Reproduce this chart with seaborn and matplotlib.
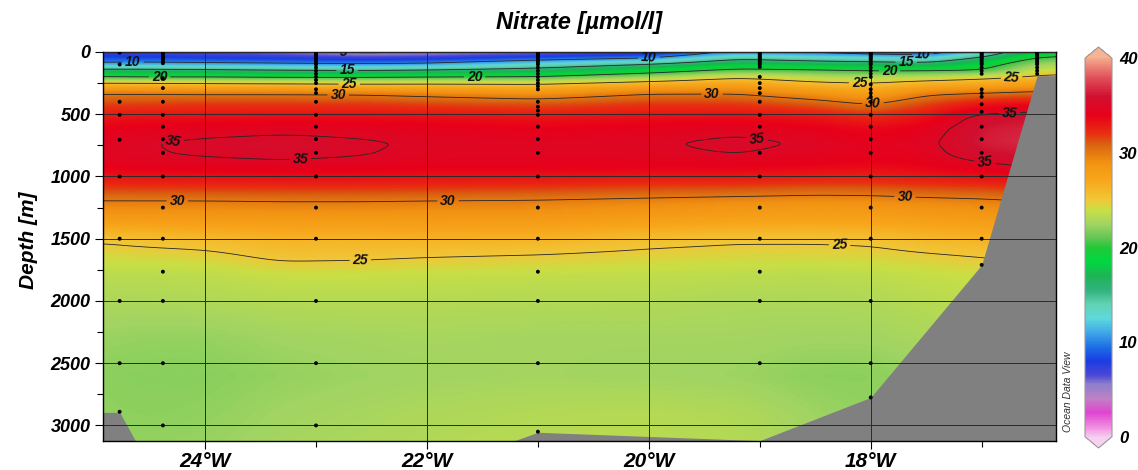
import numpy as np
import pandas as pd
import matplotlib
matplotlib.use("Agg")
import matplotlib.pyplot as plt
from matplotlib.colors import LinearSegmentedColormap
from matplotlib.ticker import FixedLocator
import seaborn as sns

# ---------------------------------------------------------------------------
# Gridded nitrate section (µmol/l): rows = depth nodes, columns = longitude nodes
# ---------------------------------------------------------------------------
lon_nodes = [-25.0, -24.5, -24.0, -23.3, -22.6, -22.0, -21.0, -20.0,
             -19.2, -18.5, -18.0, -17.5, -17.0, -16.5, -16.2]
depth_nodes = [0, 30, 60, 100, 150, 200, 250, 330, 420, 520, 620, 730, 830,
               930, 1050, 1200, 1350, 1500, 1650, 1800, 2000, 2300, 2600, 2900, 3200]
nitrate = [
    [7.0, 6.5, 6.0, 5.3, 4.6, 4.8, 5.0, 6.5, 10.5, 9.5, 8.5, 8.0, 12.5, 17.5, 18.5],
    [7.8, 7.5, 7.0, 6.5, 5.5, 5.8, 7.0, 8.5, 12.5, 11.5, 11.0, 10.5, 14.0, 19.3, 20.0],
    [8.8, 8.8, 8.5, 8.2, 7.8, 8.0, 9.6, 10.8, 15.3, 14.2, 13.8, 13.0, 16.5, 21.0, 21.5],
    [10.8, 11.0, 10.8, 10.5, 10.2, 10.6, 12.8, 15.4, 18.0, 17.0, 16.5, 16.2, 18.6, 22.5, 23.0],
    [16.5, 16.3, 16.0, 15.5, 15.2, 15.6, 16.6, 18.6, 20.8, 20.5, 20.0, 20.0, 20.0, 24.0, 24.3],
    [20.0, 19.7, 19.8, 19.5, 19.5, 19.8, 20.0, 22.2, 24.6, 23.2, 22.8, 23.3, 24.2, 25.3, 25.5],
    [25.3, 25.2, 25.0, 24.8, 24.6, 24.7, 24.6, 26.0, 27.0, 25.4, 25.0, 26.0, 26.5, 27.5, 27.5],
    [29.9, 29.9, 29.8, 29.8, 29.7, 29.3, 28.6, 29.9, 29.9, 28.6, 27.5, 29.6, 30.0, 30.5, 30.5],
    [31.5, 31.6, 31.8, 31.8, 31.8, 31.5, 31.2, 31.8, 31.8, 31.0, 29.9, 31.5, 33.0, 33.5, 33.5],
    [33.0, 33.2, 33.3, 33.4, 33.4, 33.3, 33.0, 33.3, 33.4, 33.0, 32.2, 33.2, 35.6, 36.0, 36.0],
    [34.0, 34.2, 34.4, 34.6, 34.5, 34.3, 34.0, 34.2, 34.6, 34.1, 33.6, 34.2, 36.2, 36.6, 36.6],
    [34.6, 34.95, 35.3, 35.6, 35.2, 34.8, 34.6, 34.8, 35.4, 34.8, 34.3, 34.6, 36.4, 36.8, 36.8],
    [34.6, 34.9, 35.1, 35.4, 35.05, 34.7, 34.6, 34.7, 34.95, 34.5, 34.2, 34.4, 35.8, 36.2, 36.2],
    [34.0, 34.1, 34.2, 34.3, 34.2, 34.0, 34.0, 33.9, 33.9, 33.7, 33.5, 33.8, 34.4, 35.0, 35.0],
    [32.5, 32.6, 32.7, 32.8, 32.8, 32.7, 32.6, 32.3, 32.3, 32.0, 32.0, 32.3, 32.5, 33.0, 33.0],
    [29.9, 29.9, 29.9, 30.0, 30.0, 29.9, 29.8, 29.5, 29.2, 29.0, 29.1, 29.4, 29.6, 30.0, 30.0],
    [28.0, 28.0, 28.1, 28.2, 28.2, 28.2, 28.2, 27.8, 27.5, 27.4, 27.5, 27.8, 28.0, 28.3, 28.3],
    [25.2, 25.6, 25.8, 26.3, 26.2, 26.4, 26.3, 25.6, 25.3, 25.3, 25.4, 26.0, 26.3, 26.6, 26.6],
    [24.2, 24.3, 24.5, 25.3, 25.2, 25.0, 24.8, 24.5, 24.3, 24.3, 24.4, 24.7, 25.0, 25.3, 25.3],
    [23.4, 23.4, 23.5, 23.9, 23.9, 23.8, 23.7, 23.6, 23.5, 23.4, 23.5, 23.8, 24.0, 24.3, 24.3],
    [22.9, 22.9, 23.0, 23.2, 23.2, 23.2, 23.1, 23.1, 22.9, 22.9, 23.0, 23.3, 23.5, 23.7, 23.7],
    [22.3, 22.2, 22.2, 22.5, 22.6, 22.7, 22.6, 22.6, 22.6, 22.5, 22.5, 22.8, 23.0, 23.2, 23.2],
    [22.0, 21.9, 21.9, 22.2, 22.4, 22.5, 22.6, 22.5, 22.4, 22.0, 22.0, 22.3, 22.5, 22.8, 22.8],
    [22.1, 22.0, 22.1, 22.5, 22.7, 22.9, 23.1, 23.2, 23.0, 22.4, 22.1, 22.3, 22.5, 22.7, 22.7],
    [22.2, 22.2, 22.3, 22.7, 22.9, 23.1, 23.4, 23.5, 23.2, 22.7, 22.2, 22.3, 22.5, 22.7, 22.7],
]

# CTD stations: longitude and sampled depths (m)
station_lon = [-24.77, -24.38, -23.0, -21.0, -19.0, -18.0, -17.0, -16.5]
station_depths = [
    [5, 100, 400, 505, 705, 1000, 1500, 2000, 2500, 2890],
    [5, 10, 20, 30, 40, 50, 60, 75, 90, 210, 290, 400, 505, 600, 700, 810, 1000,
     1250, 1500, 1765, 2000, 2500, 3000],
    [5, 10, 20, 30, 40, 50, 60, 75, 90, 100, 125, 150, 175, 200, 225, 250, 300,
     330, 400, 505, 600, 700, 810, 1000, 1250, 1500, 2000, 2500, 3000],
    [5, 10, 20, 30, 40, 50, 60, 75, 90, 100, 125, 150, 175, 200, 225, 250, 275,
     300, 400, 440, 470, 505, 600, 700, 810, 1000, 1250, 1500, 1765, 2000, 2500, 3050],
    [5, 10, 20, 30, 40, 50, 60, 75, 90, 100, 120, 200, 250, 290, 330, 400, 505,
     600, 810, 1000, 1250, 1500, 1765, 2000, 2500],
    [5, 10, 20, 30, 40, 50, 60, 75, 90, 100, 125, 150, 175, 200, 260, 300, 330,
     360, 400, 505, 600, 700, 810, 1000, 1250, 1500, 2000, 2500, 2775],
    [5, 10, 20, 30, 40, 50, 60, 75, 90, 100, 125, 150, 175, 300, 330, 360, 420,
     480, 600, 700, 810, 1000, 1250, 1500, 1710],
    [5, 10, 20, 30, 40, 50, 60, 75, 90, 100, 125, 150, 175],
]

# Seafloor along the section (m)
bathy_lon = [-24.92, -24.77, -24.62, -21.25, -21.0, -19.0, -18.0, -17.0, -16.5, -16.33]
bathy_depth = [2895, 2895, 3135, 3135, 3055, 3122, 2775, 1710, 190, 190]

contour_levels = [5, 10, 15, 20, 25, 30, 35]
# where the isoline labels sit (lon, depth)
label_spots = [(-24.65, 92), (-24.41, 205), (-22.78, 15), (-22.72, 140), (-22.70, 235),
               (-22.80, 330), (-24.29, 700), (-23.14, 866), (-24.25, 1200),
               (-22.60, 1684), (-21.57, 205), (-21.81, 1170), (-20.0, 48),
               (-19.43, 337), (-19.02, 682), (-18.10, 250), (-17.83, 150),
               (-17.68, 86), (-17.53, 24), (-17.98, 425), (-16.73, 208),
               (-16.75, 490), (-16.97, 890), (-17.69, 1140), (-18.28, 1530)]

x_ticks = [-24, -22, -20, -18]
x_ticklabels = ["24°W", "22°W", "20°W", "18°W"]
x_minor = [-23, -21, -19, -17]
y_ticks = [0, 500, 1000, 1500, 2000, 2500, 3000]
y_minor = [250, 750, 1250, 1750, 2250, 2750]
cbar_ticks = [0, 10, 20, 30, 40]

# ---------------------------------------------------------------------------
# Interpolate the node table onto a fine section grid and smooth it
# ---------------------------------------------------------------------------
lon_f = np.linspace(-24.92, -16.33, 520)
dep_f = np.linspace(0, 3130, 440)
tab = np.asarray(nitrate, dtype=float)
cols = np.column_stack([np.interp(dep_f, depth_nodes, tab[:, j]) for j in range(tab.shape[1])])
field = np.vstack([np.interp(lon_f, lon_nodes, row) for row in cols])


def _gauss_smooth(a, sig_r, sig_c):
    def kern(s):
        n = int(3 * s) + 1
        x = np.arange(-n, n + 1)
        w = np.exp(-0.5 * (x / s) ** 2)
        return w / w.sum(), n
    kr, nr = kern(sig_r)
    a = np.pad(a, ((nr, nr), (0, 0)), mode="edge")
    a = np.apply_along_axis(lambda v: np.convolve(v, kr, mode="valid"), 0, a)
    kc, nc = kern(sig_c)
    a = np.pad(a, ((0, 0), (nc, nc)), mode="edge")
    a = np.apply_along_axis(lambda v: np.convolve(v, kc, mode="valid"), 1, a)
    return a


field = _gauss_smooth(field, 2.5, 7.0)

# ODV-like rainbow palette
cmap_nodes = [
    (0.0, "#f6c8ee"), (1.0, "#f08ce0"), (2.5, "#e044d0"), (4.0, "#c080c4"),
    (5.5, "#8c80cc"), (6.5, "#4a46d6"), (8.0, "#1a3ce2"), (9.5, "#1e70e6"),
    (11.0, "#40a8e8"), (12.5, "#5ed8dc"), (14.0, "#62d2b2"), (15.5, "#30b27e"),
    (17.0, "#1eb454"), (18.5, "#00d840"), (20.0, "#22c838"), (21.0, "#62c654"),
    (22.5, "#a2d462"), (24.0, "#cadf44"), (25.0, "#f0c838"), (27.0, "#f8a81c"),
    (29.0, "#f29212"), (31.0, "#d86010"), (32.0, "#e83010"), (34.0, "#e8001a"),
    (36.0, "#d01030"), (38.0, "#e0505a"), (40.0, "#f4a88a"),
]
odv = LinearSegmentedColormap.from_list("odv", [(v / 40.0, c) for v, c in cmap_nodes], N=512)
odv.set_over("#f6b496")
odv.set_under("#f6d2f2")

# ---------------------------------------------------------------------------
# Figure
# ---------------------------------------------------------------------------
sns.set_style("ticks")
plt.rcParams["font.family"] = ["Liberation Sans", "DejaVu Sans"]
plt.rcParams["font.weight"] = "bold"
plt.rcParams["font.style"] = "italic"
plt.rcParams["text.color"] = "black"
plt.rcParams["xtick.color"] = "black"
plt.rcParams["ytick.color"] = "black"
plt.rcParams["axes.labelcolor"] = "black"

fig = plt.figure(figsize=(11.38, 4.70), dpi=100)
ax = fig.add_axes([103 / 1138, 1 - 441 / 470, (1056 - 103) / 1138, (441 - 52) / 470])
ax.set_axisbelow(False)

mesh = ax.pcolormesh(lon_f, dep_f, field, cmap=odv, vmin=0, vmax=40,
                     shading="gouraud", zorder=0.5, rasterized=True)
cs = ax.contour(lon_f, dep_f, field, levels=contour_levels, colors="#262626",
                linewidths=0.6, zorder=1.5)
labels = ax.clabel(cs, fmt="%d", manual=label_spots, inline=True,
                   inline_spacing=3, fontsize=10)
for t in labels:
    t.set_color("#111111")

ax.fill_between(bathy_lon, bathy_depth, 3400, color="#808080", lw=0, zorder=2)

samples = pd.DataFrame(
    [(lon, d) for lon, ds in zip(station_lon, station_depths) for d in ds],
    columns=["lon", "depth"],
)
sns.scatterplot(data=samples, x="lon", y="depth", ax=ax, s=8, color="black",
                edgecolor="none", legend=False, zorder=4)

ax.set_xlim(-24.92, -16.33)
ax.set_ylim(3125, 0)
ax.set_xlabel("")
ax.set_ylabel("")

ax.xaxis.set_major_locator(FixedLocator(x_ticks))
ax.set_xticklabels(x_ticklabels)
ax.xaxis.set_minor_locator(FixedLocator(x_minor))
ax.yaxis.set_major_locator(FixedLocator(y_ticks))
ax.yaxis.set_minor_locator(FixedLocator(y_minor))
ax.tick_params(axis="x", which="major", labelsize=15, length=6, width=0.8, pad=2,
               colors="black")
ax.tick_params(axis="x", which="minor", length=4, width=0.8, colors="black")
ax.tick_params(axis="y", which="major", labelsize=13, length=6, width=0.8, pad=3,
               colors="black")
ax.tick_params(axis="y", which="minor", length=4, width=0.8, colors="black")
ax.grid(True, which="major", color="#2a2a2a", lw=0.7)
for sp in ax.spines.values():
    sp.set_color("black")
    sp.set_linewidth(1.0)

fig.text(0.509, 1 - 22 / 470, "Nitrate [µmol/l]", ha="center", va="center",
         fontsize=17, color="black")
fig.text(28 / 1138, 1 - 240 / 470, "Depth [m]", ha="center", va="center",
         rotation=90, fontsize=15, color="black")
fig.text(1068 / 1138, 1 - 392 / 470, "Ocean Data View", ha="center", va="center",
         rotation=90, fontsize=7.5, fontweight="normal", style="italic", color="#333333")

cax = fig.add_axes([1085 / 1138, 1 - 448 / 470, 27 / 1138, (448 - 47) / 470])
cb = fig.colorbar(mesh, cax=cax, extend="both", extendfrac=0.03, ticks=cbar_ticks)
cb.outline.set_edgecolor("#9a9a9a")
cb.outline.set_linewidth(0.8)
cax.tick_params(length=0, labelsize=12, pad=5, colors="black")

fig.savefig("out.png", dpi=100)
